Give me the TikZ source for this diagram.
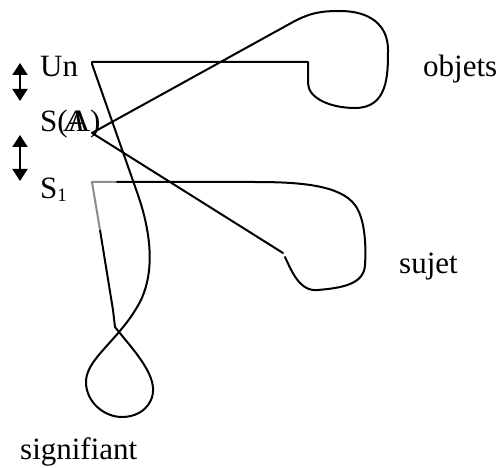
\documentclass[tikz,border=0pt]{standalone}
\usepackage{fontspec}
\setmainfont{Liberation Serif}
\usetikzlibrary{arrows.meta}
\begin{document}
\begin{tikzpicture}[x=1pt,y=-1pt,
  lbl/.style={anchor=base west,inner sep=0pt,font=\fontsize{31}{36}\selectfont},
  curve/.style={line width=2pt,line join=round,line cap=round},
  greyline/.style={line width=2pt,line join=round,draw=black!45},
  dbl/.style={line width=2pt,{Triangle[width=15pt,length=12pt]}-{Triangle[width=15pt,length=12pt]}}]
\useasboundingbox (0,0) rectangle (501,468);
% labels
\node[lbl] (un) at (40,77) {Un};
\node[lbl] (sa) at (40,132) {S(\makebox[0pt][l]{\hspace{-3pt}\itshape A}A)};
\node[lbl] (s1) at (40,198) {S\raisebox{-3pt}{\fontsize{19}{19}\selectfont 1}};
\node[lbl] (obj) at (423,77) {objets};
\node[lbl] (suj) at (399,273) {sujet};
\node[lbl] (sig) at (20,459) {signifiant};
% double arrows
\coordinate (a1t) at (20,63); \coordinate (a1b) at (20,101);
\coordinate (a2t) at (20,135); \coordinate (a2b) at (20,181);
\draw[dbl] (a1t) -- (a1b);
\draw[dbl] (a2t) -- (a2b);
% key points
\coordinate (UnC) at (92,62);
\coordinate (SAv) at (92,133);
\coordinate (S1c) at (92,182);
\coordinate (X) at (119,332);
% Un / objets / S(A) / sujet-end path
\draw[curve] (283,253) -- (SAv) -- (293,22)
  .. controls (310,13) and (320,11) .. (340,11)
  .. controls (370,11) and (388,25) .. (388,50)
  .. controls (388,75) and (388,108) .. (355,108)
  .. controls (330,108) and (308,98) .. (308,83)
  -- (308,62) -- (UnC) -- (92,64) -- (138,195)
  .. controls (150,230) and (156,270) .. (140,302)
  .. controls (133,315) and (125,325) .. (X)
  .. controls (104,350) and (86,365) .. (86,382)
  .. controls (86,402) and (104,417) .. (122,417)
  .. controls (140,417) and (154,405) .. (153,388)
  .. controls (152,370) and (132,348) .. (X)
  -- (115,327) -- (113,310) -- (100,230);
% S1 grey corner
\draw[greyline] (100,230) -- (S1c) -- (117,182);
% sujet blob
\draw[curve] (117,182) -- (255,182)
  .. controls (300,182) and (340,185) .. (355,205)
  .. controls (366,220) and (366,250) .. (365,265)
  .. controls (364,285) and (340,288) .. (318,290)
  .. controls (300,292) and (292,272) .. (285,257);
\end{tikzpicture}
\end{document}
